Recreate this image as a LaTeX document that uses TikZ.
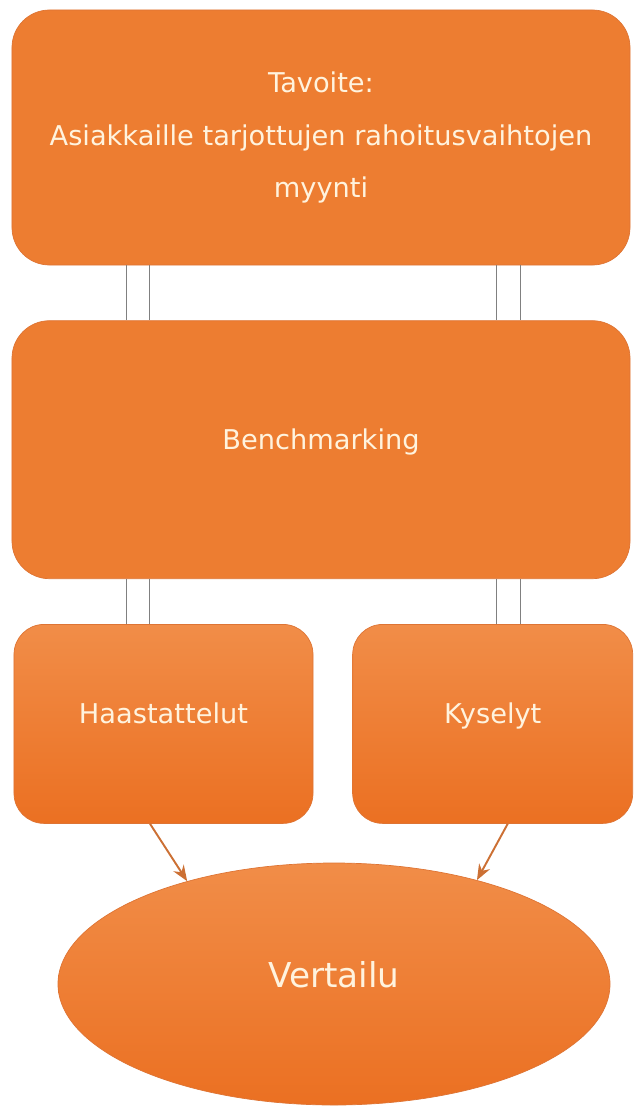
\documentclass[tikz,border=0pt]{standalone}
\usepackage{fontspec}
\setmainfont{DejaVu Sans}
\usepackage{tikz}
\usetikzlibrary{positioning, arrows.meta, calc, shapes.geometric}
\definecolor{boxfill}{RGB}{237,125,49}
\definecolor{boxtop}{RGB}{241,141,72}
\definecolor{boxbottom}{RGB}{235,112,34}
\definecolor{boxedge}{RGB}{222,116,52}
\definecolor{labeltext}{RGB}{255,243,222}
\definecolor{linkgray}{RGB}{128,128,128}
\definecolor{flowcol}{RGB}{204,112,52}
\tikzset{
  bigbox/.style={
    rectangle, rounded corners=0.75cm, fill=boxfill, draw=boxedge, line width=0.4pt,
    minimum width=12.36cm, minimum height=5.1cm, align=center,
    text=labeltext, font=\fontsize{15.5}{30}\selectfont
  },
  smallbox/.style={
    rectangle, rounded corners=0.6cm, top color=boxtop, bottom color=boxbottom,
    draw=boxedge, line width=0.4pt, minimum height=3.98cm,
    text height=0.75em, text depth=0.75em,
    text=labeltext, font=\fontsize{15.5}{19}\selectfont
  },
  oval/.style={
    ellipse, top color=boxtop, bottom color=boxbottom, draw=boxedge, line width=0.4pt,
    minimum width=11.04cm, minimum height=4.84cm,
    text height=0.75em, text depth=0.4em,
    text=labeltext, font=\fontsize{19.5}{24}\selectfont
  },
  link/.style={draw=linkgray, line width=0.6pt},
  flow/.style={draw=flowcol, line width=1.1pt, -{Stealth[length=9pt, width=7pt]}},
}

\begin{document}
\begin{tikzpicture}
  \useasboundingbox (0,0) rectangle (12.82,-22.26);
  \node[bigbox, text depth=0.3em] (goal) at (6.42,-2.75) {Tavoite:\\Asiakkaille tarjottujen rahoitusvaihtojen\\myynti};
  \node[bigbox, minimum height=5.16cm, text height=0.75em, text depth=0.75em,
        below=1.1cm of goal] (bench) {Benchmarking};
  \node[smallbox, minimum width=5.98cm, anchor=north west] (haast) at ([shift={(0.04,-0.9)}]bench.south west) {Haastattelut};
  \node[smallbox, minimum width=5.6cm, right=0.78cm of haast] (kysel) {Kyselyt};
  \node[oval] (vert) at (6.68,-19.68) {Vertailu};

  % double lines between the levels
  \foreach \dx in {2.3, 2.76, 9.7, 10.18} {
    \draw[link] ([xshift=\dx cm]goal.south west) -- ([xshift=\dx cm]bench.north west);
    \draw[link] ([xshift=\dx cm]bench.south west) -- ([xshift=\dx cm]bench.south west |- haast.north);
  }
  \draw[flow] ([xshift=-0.27cm]haast.south) -- (vert.145);
  \draw[flow] ([xshift=0.3cm]kysel.south) -- (vert.36);
\end{tikzpicture}
\end{document}
